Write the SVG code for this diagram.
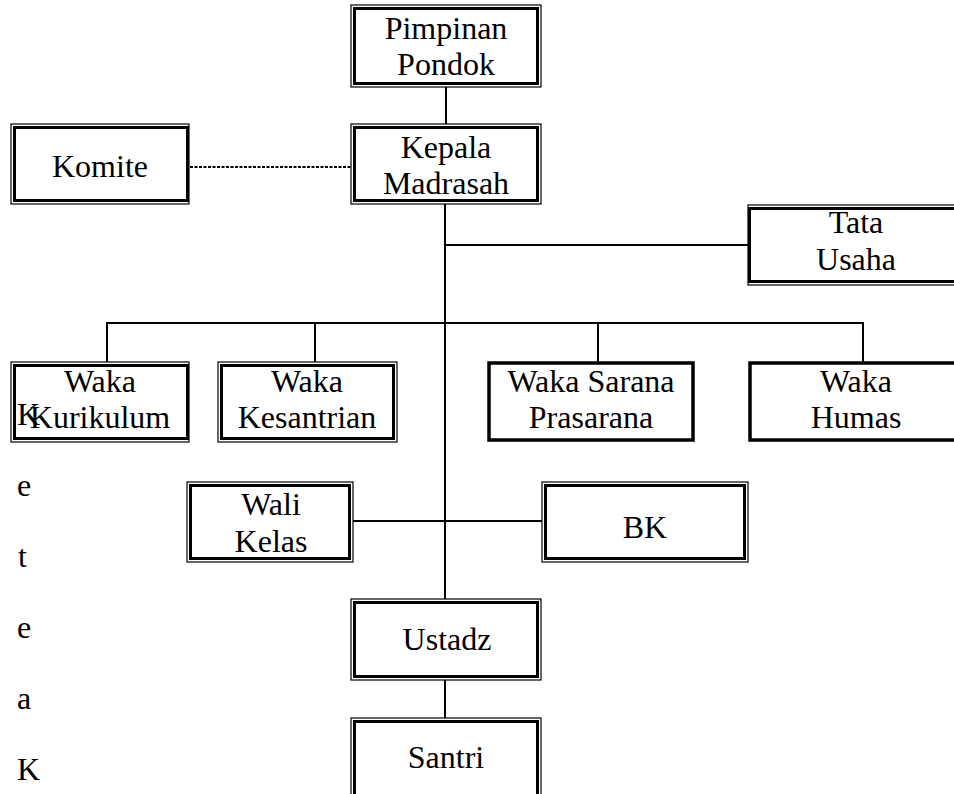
<svg xmlns="http://www.w3.org/2000/svg" width="954" height="794" viewBox="0 0 954 794">
<style>
  .o { fill: none; stroke: #000; stroke-width: 1.2; }
  .i { fill: none; stroke: #000; stroke-width: 3; }
  .s { fill: none; stroke: #000; stroke-width: 3.5; }
  .c { fill: none; stroke: #000; stroke-width: 2; }
  .d { fill: none; stroke: #000; stroke-width: 1.8; stroke-dasharray: 3 1.5; }
  text { font-family: "Liberation Serif", "Times New Roman", serif; font-size: 32px; fill: #000; }
  .m { text-anchor: middle; }
</style>
<rect width="954" height="794" fill="#fff"/>
<g id="connectors">
  <line class="c" x1="446" y1="87" x2="446" y2="124"/>
  <line class="d" x1="190" y1="167" x2="351" y2="167"/>
  <line class="c" x1="445" y1="204" x2="445" y2="599"/>
  <line class="c" x1="445" y1="245" x2="748" y2="245"/>
  <line class="c" x1="107" y1="323" x2="863" y2="323"/>
  <line class="c" x1="107" y1="322" x2="107" y2="362"/>
  <line class="c" x1="315" y1="322" x2="315" y2="362"/>
  <line class="c" x1="598" y1="322" x2="598" y2="362"/>
  <line class="c" x1="863" y1="322" x2="863" y2="362"/>
  <line class="c" x1="353" y1="521" x2="542" y2="521"/>
  <line class="c" x1="445" y1="680" x2="445" y2="718"/>
</g>
<g id="pimpinan">
  <rect class="o" x="351" y="5" width="190" height="82"/>
  <rect class="i" x="354.5" y="8.5" width="183" height="75"/>
  <text class="m" x="446" y="39">Pimpinan</text>
  <text class="m" x="446" y="75">Pondok</text>
</g>
<g id="kepala">
  <rect class="o" x="351" y="124" width="190" height="80"/>
  <rect class="i" x="354.5" y="127.5" width="183" height="73"/>
  <text class="m" x="446" y="158">Kepala</text>
  <text class="m" x="446" y="194">Madrasah</text>
</g>
<g id="komite">
  <rect class="o" x="11" y="124" width="178" height="80"/>
  <rect class="i" x="14.5" y="127.5" width="173" height="73"/>
  <text class="m" x="100" y="177">Komite</text>
</g>
<g id="tata-usaha">
  <rect class="o" x="748" y="205" width="215" height="80"/>
  <rect class="i" x="749.5" y="208.5" width="210" height="73"/>
  <text class="m" x="856" y="233">Tata</text>
  <text class="m" x="856" y="270">Usaha</text>
</g>
<g id="waka-kurikulum">
  <rect class="o" x="11" y="362" width="178" height="80"/>
  <rect class="i" x="14.5" y="365.5" width="173" height="73"/>
  <text class="m" x="100" y="392">Waka</text>
  <text class="m" x="100" y="428">Kurikulum</text>
</g>
<g id="waka-kesantrian">
  <rect class="o" x="218" y="362" width="179" height="80"/>
  <rect class="i" x="221.5" y="365.5" width="172" height="73"/>
  <text class="m" x="307" y="392">Waka</text>
  <text class="m" x="307" y="428">Kesantrian</text>
</g>
<g id="waka-sarana">
  <rect class="s" x="489" y="363" width="204" height="77"/>
  <text class="m" x="591" y="392">Waka Sarana</text>
  <text class="m" x="591" y="428">Prasarana</text>
</g>
<g id="waka-humas">
  <rect class="s" x="750" y="363" width="225" height="77"/>
  <text class="m" x="856" y="392">Waka</text>
  <text class="m" x="856" y="428">Humas</text>
</g>
<g id="wali-kelas">
  <rect class="o" x="187" y="482" width="166" height="80"/>
  <rect class="i" x="190.5" y="485.5" width="159" height="73"/>
  <text class="m" x="271" y="515">Wali</text>
  <text class="m" x="271" y="552">Kelas</text>
</g>
<g id="bk">
  <rect class="o" x="542" y="482" width="206" height="80"/>
  <rect class="i" x="545.5" y="485.5" width="199" height="73"/>
  <text class="m" x="645" y="538">BK</text>
</g>
<g id="ustadz">
  <rect class="o" x="351" y="599" width="190" height="81"/>
  <rect class="i" x="354.5" y="602.5" width="183" height="74"/>
  <text class="m" x="447" y="650">Ustadz</text>
</g>
<g id="santri">
  <rect class="o" x="351" y="718" width="190" height="90"/>
  <rect class="i" x="354.5" y="721.5" width="183" height="83"/>
  <text class="m" x="446" y="768">Santri</text>
</g>
<g id="stray-text">
  <text x="17" y="425">K</text>
  <text x="17" y="496">e</text>
  <text x="18" y="567">t</text>
  <text x="17" y="638">e</text>
  <text x="17" y="709">a</text>
  <text x="17" y="780">K</text>
</g>
</svg>
